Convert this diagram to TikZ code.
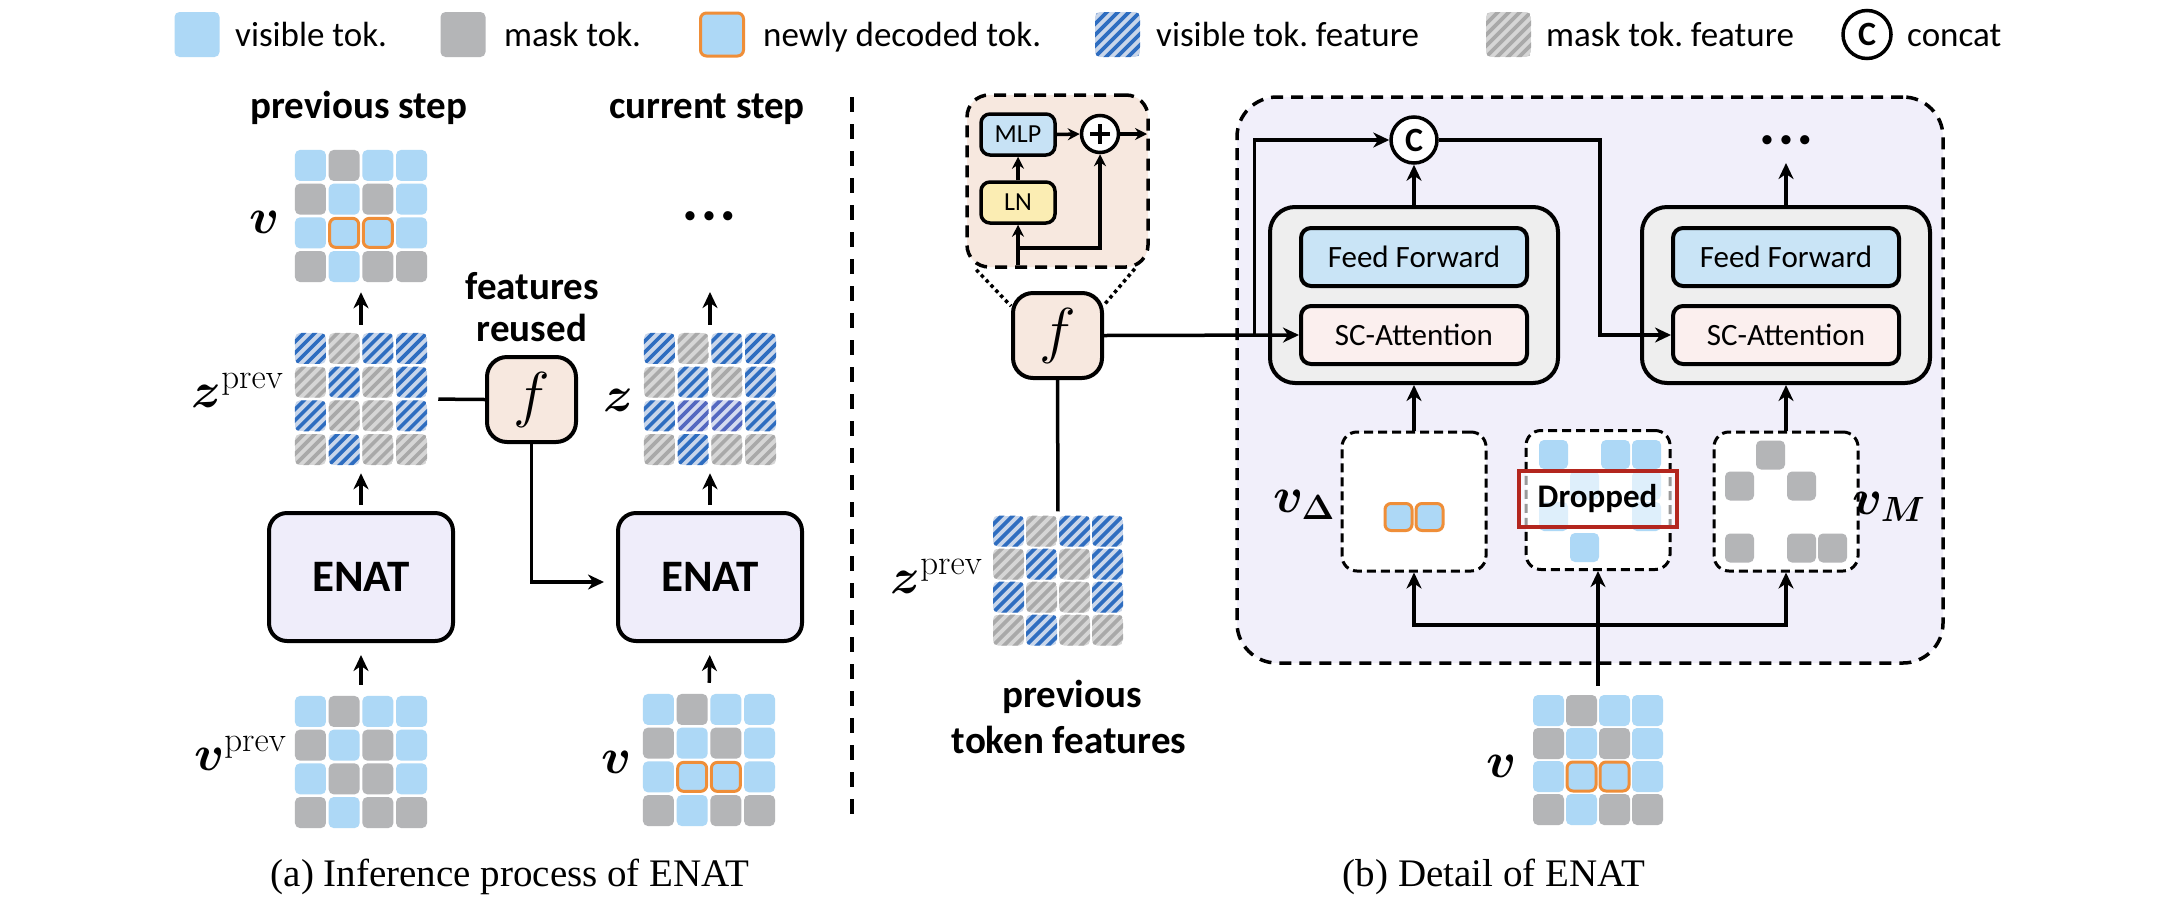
\RequirePackage{fix-cm}
\documentclass[tikz,border=0pt]{standalone}
\usepackage{amsmath}
\usepackage{bm}
\usepackage[no-math]{fontspec}
\setmainfont{Carlito}
\newfontfamily\capfont{Liberation Serif}
\usetikzlibrary{arrows.meta,calc}
\definecolor{visblue}{HTML}{ADD8F6}
\definecolor{maskgray}{HTML}{B4B5B7}
\definecolor{decorange}{HTML}{EF8E38}
\definecolor{featbg}{HTML}{C9D6EA}
\definecolor{featblue}{HTML}{2E6DC0}
\definecolor{mfeatbg}{HTML}{D6D6D6}
\definecolor{mfeatfg}{HTML}{A9A9A9}
\definecolor{nfeatbg}{HTML}{D5DBF0}
\definecolor{nfeatfg}{HTML}{5468C0}
\definecolor{enatfill}{HTML}{EFEDFA}
\definecolor{ffill}{HTML}{F7E8DF}
\definecolor{bigfill}{HTML}{F1EFFA}
\definecolor{blockfill}{HTML}{EEEEEE}
\definecolor{fffill}{HTML}{C9E4F6}
\definecolor{scfill}{HTML}{FBEFEE}
\definecolor{mlpfill}{HTML}{C7E2F5}
\definecolor{lnfill}{HTML}{FBEDB3}
\definecolor{dropred}{HTML}{B3261E}
\newcommand{\setfs}[1]{\fontsize{#1}{#1}\selectfont}
\newcommand{\tokV}[3]{\fill[visblue,rounded corners=5pt] ({#1-#3/2},{#2-#3/2}) rectangle ({#1+#3/2},{#2+#3/2});}
\newcommand{\tokM}[3]{\fill[maskgray,rounded corners=5pt] ({#1-#3/2},{#2-#3/2}) rectangle ({#1+#3/2},{#2+#3/2});}
\newcommand{\tokN}[3]{\filldraw[fill=visblue,draw=decorange,line width=3pt,rounded corners=6pt] ({#1-#3/2+1},{#2-#3/2+1}) rectangle ({#1+#3/2-1},{#2+#3/2-1});}
\newcommand{\tokE}[3]{}
\newcommand{\tokstripe}[5]{%
  \begin{scope}
    \clip[rounded corners=5pt] ({#1-#3/2},{#2-#3/2}) rectangle ({#1+#3/2},{#2+#3/2});
    \fill[#4] ({#1-#3/2},{#2-#3/2}) rectangle ({#1+#3/2},{#2+#3/2});
    \foreach \sk in {-4,...,4}{\draw[#5,line width=3.6pt] ({#1+\sk*11-#3},{#2+#3}) -- ({#1+\sk*11+#3},{#2-#3});}
  \end{scope}}
\newcommand{\tokVF}[3]{\tokstripe{#1}{#2}{#3}{featbg}{featblue}}
\newcommand{\tokMF}[3]{\tokstripe{#1}{#2}{#3}{mfeatbg}{mfeatfg}}
\newcommand{\tokNF}[3]{\tokstripe{#1}{#2}{#3}{nfeatbg}{nfeatfg}}
\newcommand{\tokgrid}[6]{%
  \foreach \rowlist [count=\ri from 0] in {#6} {%
    \foreach \tk [count=\ci from 0] in \rowlist {%
      \pgfmathsetmacro{\xx}{#2+(\ci-1.5)*#4}%
      \pgfmathsetmacro{\yy}{#3+(\ri-1.5)*#4}%
      \csname tok\tk\endcsname{\xx}{\yy}{#5}%
    }%
  }%
  \node[inner sep=0pt,minimum width={(3*#4+#5)*1pt},minimum height={(3*#4+#5)*1pt}] (#1) at (#2,#3) {};%
}
\tikzset{
 conn/.style={line width=3.5pt,-{Stealth[length=16pt,width=15pt,inset=5pt]}},
 conntwo/.style={line width=3.5pt,{Stealth[length=16pt,width=15pt,inset=5pt]}-{Stealth[length=16pt,width=15pt,inset=5pt]}},
 sconn/.style={line width=3.5pt,-{Stealth[length=12pt,width=12pt,inset=4pt]}},
 wire/.style={line width=3.5pt},
 dotline/.style={line width=3.5pt,dash pattern=on 3.5pt off 3.5pt},
 dashbox/.style={draw,line width=3.5pt,dash pattern=on 12pt off 8pt,inner sep=0pt},
 innerbox/.style={draw,line width=3pt,dash pattern=on 9pt off 5pt,fill=white,rounded corners=15pt,minimum width=144pt,minimum height=139pt,inner sep=0pt},
 enatbox/.style={draw,line width=4pt,rounded corners=18pt,fill=enatfill,minimum width=184pt,minimum height=128pt,inner sep=0pt,font=\bfseries\setfs{45}},
 fnode/.style={draw,line width=4pt,rounded corners=20pt,fill=ffill,minimum width=89pt,minimum height=85pt,inner sep=0pt,font=\setfs{62}},
 blockbox/.style={draw,line width=4pt,rounded corners=25pt,fill=blockfill,minimum width=288pt,minimum height=176pt,inner sep=0pt},
 layerbox/.style={draw,line width=4pt,rounded corners=10pt,minimum width=226pt,minimum height=58pt,inner sep=0pt,font=\setfs{31}},
 smallbox/.style={draw,line width=3.5pt,rounded corners=9pt,minimum width=74pt,minimum height=41pt,inner sep=0pt,font=\setfs{26}},
 ccirc/.style={circle,draw,line width=3.5pt,fill=white,inner sep=0pt,font=\bfseries\setfs{34}},
 legtxt/.style={anchor=base west,inner sep=0pt,font=\setfs{35}},
 headtxt/.style={anchor=base,inner sep=0pt,font=\bfseries\setfs{39}},
 mathlab/.style={inner sep=0pt,font=\setfs{50}},
 captxt/.style={anchor=base,inner sep=0pt,font=\capfont\setfs{39}},
 dotstxt/.style={inner sep=0pt,font=\setfs{26}},
}
\begin{document}
\begin{tikzpicture}[x=1pt,y=-1pt]
\fill[white] (0,0) rectangle (2167,911);
\useasboundingbox (0,0) rectangle (2167,911);

% ---------------- legend
\tokV{197}{34.5}{45}
\node[legtxt] (lgv) at (235,46.5) {visible tok.};
\tokM{463}{34.5}{45}
\node[legtxt] (lgm) at (504,46.5) {mask tok.};
\tokN{722}{34.5}{45}
\node[legtxt] (lgn) at (763,46.5) {newly decoded tok.};
\tokVF{1117.5}{34.5}{45}
\node[legtxt] (lgvf) at (1156,46.5) {visible tok.\ feature};
\tokMF{1508.5}{34.5}{45}
\node[legtxt] (lgmf) at (1546,46.5) {mask tok.\ feature};
\node[ccirc,minimum size=48pt] (lgc) at (1867,34.5) {C};
\node[legtxt] (lgct) at (1907,46.5) {concat};

% ---------------- panel (a)
\node[headtxt] (hprev) at (359,118) {previous step};
\node[headtxt] (hcur) at (707,118) {current step};

\tokgrid{vt}{361}{216}{33.7}{31}{{V,M,V,V},{M,V,M,V},{V,N,N,V},{M,V,M,M}}
\tokgrid{zp}{361}{399}{33.7}{31}{{VF,MF,VF,VF},{MF,VF,MF,VF},{VF,MF,MF,VF},{MF,VF,MF,MF}}
\tokgrid{vp}{361}{762}{33.7}{31}{{V,M,V,V},{M,V,M,V},{V,M,M,V},{M,V,M,M}}
\tokgrid{zc}{710}{399}{33.7}{31}{{VF,MF,VF,VF},{MF,VF,MF,VF},{VF,NF,NF,VF},{MF,VF,MF,MF}}
\tokgrid{vc}{709}{760}{33.7}{31}{{V,M,V,V},{M,V,M,V},{V,N,N,V},{M,V,M,M}}

\node[mathlab] (lv1) at (265,222) {$\bm{v}$};
\node[mathlab,anchor=base east] (lzp1) at (284,407) {$\bm{z}^{\mathrm{prev}}$};
\node[mathlab,anchor=base east] (lvp) at (287,770) {$\bm{v}^{\mathrm{prev}}$};
\node[mathlab] (lz2) at (618,400) {$\bm{z}$};
\node[mathlab] (lv2) at (617,762) {$\bm{v}$};

\node[fnode] (f1) at (531.5,399.5) {$f$};
\node[headtxt] (fr1) at (532,299) {features};
\node[headtxt] (fr2) at (532,341) {reused};

\node[enatbox] (enat1) at (361,577) {ENAT};
\node[enatbox] (enat2) at (710,577) {ENAT};
\node[dotstxt] (dots1) at (709,218) {\textbullet\hspace{6pt}\textbullet\hspace{6pt}\textbullet};
\coordinate (dtip1) at (710,292);

\draw[conn,shorten <=8pt,shorten >=10pt] (zp.north) -- (vt.south);
\draw[conn,shorten <=6pt,shorten >=8pt] (enat1.north) -- (zp.south);
\draw[conn,shorten <=11pt,shorten >=12pt] (vp.north) -- (enat1.south);
\draw[wire,shorten <=11pt] (zp.east) -- (f1.west);
\draw[conn,shorten >=12pt] (f1.south) |- ([yshift=-5pt]enat2.west);
\draw[conn,shorten <=8pt] (zc.north) -- (dtip1);
\draw[conn,shorten <=6pt,shorten >=8pt] (enat2.north) -- (zc.south);
\draw[conn,shorten <=11pt,shorten >=12pt] (vc.north) -- (enat2.south);

\draw[line width=4pt,dash pattern=on 15pt off 12pt] (852,97) -- (852,823);

\node[captxt] (capa) at (510,886) {(a) Inference process of ENAT};

% ---------------- panel (b)
\node[dashbox,fill=bigfill,rounded corners=40pt,minimum width=706pt,minimum height=566pt] (big) at (1590,380) {};

\node[dashbox,fill=ffill,rounded corners=22pt,minimum width=181pt,minimum height=172pt] (inset) at (1057.5,181) {};
\node[smallbox,fill=mlpfill] (mlp) at (1018,134.5) {MLP};
\node[smallbox,fill=lnfill] (ln) at (1018,202.5) {LN};
\node[circle,draw,line width=3.5pt,fill=white,minimum size=37pt,inner sep=0pt] (plus) at (1100,134) {};
\draw[line width=4.5pt] ([xshift=-10pt]plus.center) -- ([xshift=10pt]plus.center);
\draw[line width=4.5pt] ([yshift=-10pt]plus.center) -- ([yshift=10pt]plus.center);
\coordinate (insout) at (1147,134);
\coordinate (insin) at (1018,265);
\coordinate (insbr) at (1018,248);
\draw[sconn] (ln.north) -- (mlp.south);
\draw[sconn] (mlp.east) -- (plus.west);
\draw[sconn] (plus.east) -- (insout);
\draw[sconn] (insin) -- (ln.south);
\draw[sconn] (insbr) -| (plus.south);

\node[fnode] (f2) at (1057.5,335.5) {$f$};
\draw[dotline] ([xshift=11pt,yshift=-1pt]inset.south west) -- ([yshift=-15pt]f2.north west);
\draw[dotline] ([xshift=-15pt]inset.south east) -- ([yshift=-14pt]f2.north east);

\tokgrid{zpb}{1058}{580.5}{33}{31}{{VF,MF,VF,VF},{MF,VF,MF,VF},{VF,MF,MF,VF},{MF,VF,MF,MF}}
\draw[wire,shorten >=4pt] (f2.south) -- (zpb.north);
\node[mathlab,anchor=base east] (lzpb) at (983,593) {$\bm{z}^{\mathrm{prev}}$};
\node[headtxt] (ptf1) at (1072,707) {previous};
\node[headtxt] (ptf2) at (1069,753) {token features};

\node[blockbox] (blk1) at (1414,295) {};
\node[layerbox,fill=fffill] (ff1) at (1414,257) {Feed Forward};
\node[layerbox,fill=scfill] (sc1) at (1414,335) {SC-Attention};
\node[blockbox] (blk2) at (1786,295) {};
\node[layerbox,fill=fffill] (ff2) at (1786,257) {Feed Forward};
\node[layerbox,fill=scfill] (sc2) at (1786,335) {SC-Attention};
\node[ccirc,minimum size=46pt] (cc) at (1414,140) {C};
\node[dotstxt] (dots2) at (1786,142) {\textbullet\hspace{6pt}\textbullet\hspace{6pt}\textbullet};
\coordinate (dtip2) at (1786,163);

\coordinate (fbr) at (1254.5,335.5);
\coordinate (cturn) at (1600,335);
\draw[conn] (f2.east) -- (sc1.west);
\draw[conn] (fbr) |- (cc.west);
\draw[conn] (blk1.north) -- (cc.south);
\draw[conn] (cc.east) -| (cturn) -- (sc2.west);
\draw[conn] (blk2.north) -- (dtip2);

\node[innerbox] (vD) at (1414,501.5) {};
\node[innerbox] (drop) at (1598,500) {};
\node[innerbox] (vM) at (1786,501.5) {};
\tokgrid{gD}{1414}{501.5}{31}{29}{{E,E,E,E},{E,E,E,E},{E,N,N,E},{E,E,E,E}}
\tokgrid{gDrop}{1600}{501}{31}{29}{{V,E,V,V},{E,V,E,V},{V,E,E,V},{E,V,E,E}}
\tokgrid{gM}{1786}{501.5}{31}{29}{{E,M,E,E},{M,E,M,E},{E,E,E,E},{M,E,M,M}}
\node[draw=dropred,line width=4pt,fill=white,fill opacity=0.6,text opacity=1,minimum width=158pt,minimum height=56pt,inner sep=0pt,font=\bfseries\setfs{33}] (dropped) at (1597.5,499) {Dropped};
\node[mathlab] (lvD) at (1304,505) {$\bm{v}_{\bm{\Delta}}$};
\node[mathlab] (lvM) at (1889,507) {$\bm{v}_{\bm{M}}$};

\draw[conn] (vD.north) -- (blk1.south);
\draw[conn] (vM.north) -- (blk2.south);

\tokgrid{vb}{1598}{760}{33}{31}{{V,M,V,V},{M,V,M,V},{V,N,N,V},{M,V,M,M}}
\node[mathlab] (lvb) at (1502,766) {$\bm{v}$};
\coordinate (bsplit) at (1598,625);
\draw[conntwo] (vD.south) -- (vD.south |- bsplit) -- (vM.south |- bsplit) -- (vM.south);
\draw[conn,shorten <=9pt] (vb.north) -- (drop.south);

\node[captxt] (capb) at (1494,886) {(b) Detail of ENAT};
\end{tikzpicture}
\end{document}
